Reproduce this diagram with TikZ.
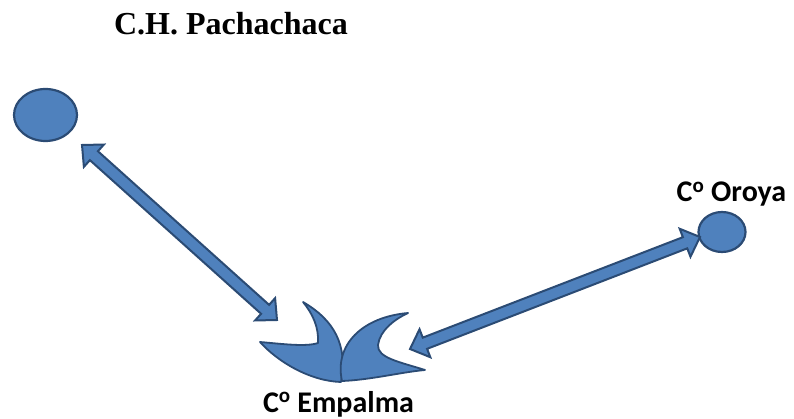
\documentclass[tikz,border=0pt]{standalone}
\usepackage{fontspec}
\setmainfont{Liberation Serif}
\newfontfamily\labfont{Carlito}
\usetikzlibrary{calc,shapes.geometric}
\definecolor{bfill}{HTML}{4F81BD}
\definecolor{bline}{HTML}{2B4B74}
\tikzset{
  blob/.style={ellipse, fill=bfill, draw=bline, line width=2.2pt, inner sep=0pt},
  barrow/.style={fill=bfill, draw=bline, line width=2pt, line join=miter},
  crescent/.style={fill=bfill, draw=bline, line width=1.8pt, line join=round},
  title/.style={font=\fontsize{32}{38}\selectfont\bfseries, anchor=base, inner sep=0pt},
  lab/.style={font=\labfont\fontsize{30}{36}\selectfont\bfseries, anchor=base, inner sep=0pt}
}
\newcommand\headlen{16pt}
\newcommand\headw{15pt}
\newcommand\shaftw{6pt}
\newcommand\blockarrow[2]{%
  \coordinate (ba1) at ($(#1)!\headlen!(#2)$);
  \coordinate (ba2) at ($(#2)!\headlen!(#1)$);
  \draw[barrow] (#1) -- ($(ba1)!\headw!90:(#2)$) -- ($(ba1)!\shaftw!90:(#2)$)
    -- ($(ba2)!\shaftw!90:(#2)$) -- ($(ba2)!\headw!90:(#2)$) -- (#2)
    -- ($(ba2)!\headw!-90:(#2)$) -- ($(ba2)!\shaftw!-90:(#2)$)
    -- ($(ba1)!\shaftw!-90:(#2)$) -- ($(ba1)!\headw!-90:(#2)$) -- cycle;
}
\begin{document}
\begin{tikzpicture}[x=1pt, y=-1pt]
\useasboundingbox (0,0) rectangle (794,419);
% title
\node[title] (ttl) at (231,35) {C.H. Pachachaca};
% stations
\node[blob, minimum width=63pt, minimum height=52pt] (pach) at (45.5,115) {};
\node[blob, minimum width=47pt, minimum height=40pt] (oroya) at (722,232) {};
\node[lab] (oroyalab) at (731.5,202) {C\textsuperscript{o} Oroya};
\node[lab] (empalmalab) at (338.5,412) {C\textsuperscript{o} Empalma};
% Empalma symbol
\coordinate (emp) at (342,345);
\draw[crescent] (303,302) .. controls (334,320) and (348,345) .. (341,382)
  .. controls (310,381) and (278,362) .. (260,342)
  .. controls (283,344) and (306,347) .. (318,343)
  .. controls (319,328) and (313,314) .. (303,302) -- cycle;
\draw[crescent] (408,313) .. controls (362,317) and (334,345) .. (342,381)
  .. controls (370,380) and (402,372) .. (425,370)
  .. controls (400,362) and (377,358) .. (378,345)
  .. controls (380,330) and (395,319) .. (408,313) -- cycle;
% arrow ends
\coordinate (a1s) at (82,145);
\coordinate (a1e) at (277,320);
\coordinate (a2s) at (410,349);
\coordinate (a2e) at (700,237);
\blockarrow{a1s}{a1e}
\blockarrow{a2s}{a2e}
\end{tikzpicture}
\end{document}
